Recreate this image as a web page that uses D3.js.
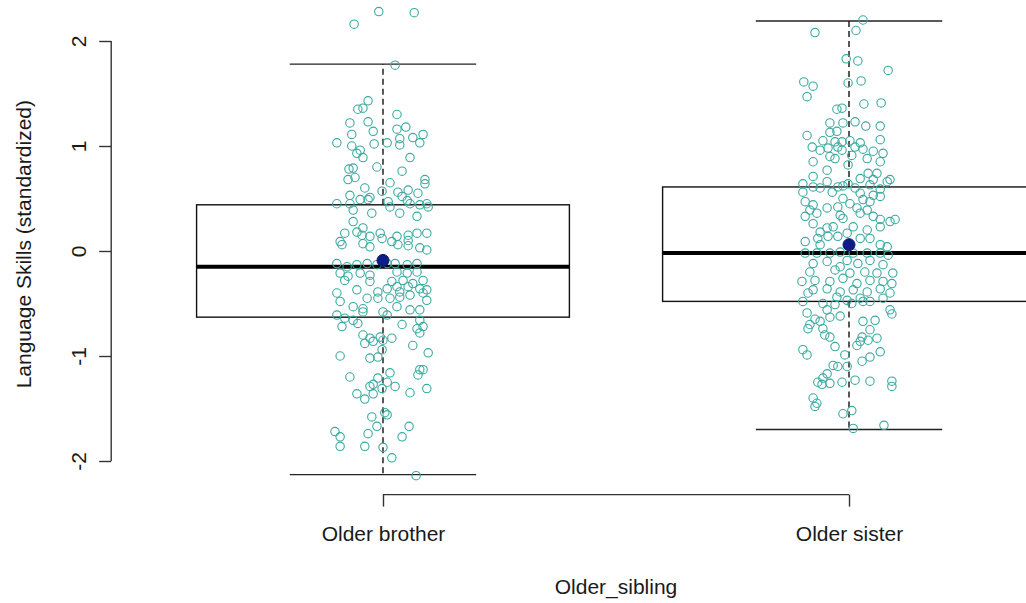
<!DOCTYPE html>
<html>
<head>
<meta charset="utf-8">
<script src="https://cdn.jsdelivr.net/npm/d3@7"></script>
<style>
  html, body { margin: 0; padding: 0; background: #fff; }
  #chart { width: 1026px; height: 603px; overflow: hidden; }
  text { font-family: "Liberation Sans", Arial, sans-serif; fill: #1a1a1a; }
</style>
</head>
<body>
<div id="chart"></div>
<script>
// categories and box statistics
const categories = ["Older brother", "Older sister"];
const lowWhisker = [-2.13, -1.70];
const q1 = [-0.63, -0.48];
const medians = [-0.15, -0.02];
const q3 = [0.44, 0.61];
const highWhisker = [1.78, 2.19];
const means = [-0.09, 0.06];
const yTicks = [-2, -1, 0, 1, 2];

// jittered observations: [horizontal jitter (category units), value]
const brotherPoints = [
  [-0.062,2.16],[-0.009,2.28],[0.067,2.27],[0.026,1.77],[-0.032,1.43],[-0.054,1.35],[-0.043,1.36],[0.030,1.30],
  [-0.071,1.22],[-0.032,1.23],[0.030,1.16],[0.049,1.18],[-0.067,1.11],[-0.021,1.14],[0.036,1.07],[0.064,1.08],
  [0.086,1.11],[-0.099,1.03],[-0.067,1.00],[-0.049,0.96],[-0.019,1.02],[0.009,1.03],[0.036,1.01],[0.079,1.03],
  [-0.056,0.93],[-0.043,0.89],[0.058,0.89],[-0.013,0.80],[-0.073,0.78],[-0.064,0.79],[0.041,0.76],[-0.075,0.68],
  [-0.060,0.70],[0.090,0.68],[0.090,0.64],[0.015,0.65],[-0.039,0.60],[-0.002,0.57],[0.032,0.56],[0.054,0.58],
  [0.075,0.55],[-0.071,0.53],[-0.028,0.51],[0.041,0.52],[-0.099,0.45],[-0.071,0.45],[-0.049,0.49],[-0.032,0.49],
  [0.011,0.47],[0.052,0.48],[0.058,0.45],[0.079,0.44],[0.094,0.45],[0.097,0.42],[-0.064,0.39],[-0.024,0.36],
  [0.015,0.42],[0.073,0.33],[0.036,0.36],[-0.064,0.28],[-0.043,0.22],[-0.056,0.18],[-0.082,0.17],[-0.045,0.15],
  [-0.028,0.14],[-0.006,0.17],[0.030,0.14],[0.054,0.15],[0.073,0.17],[0.094,0.17],[-0.002,0.12],[0.019,0.09],
  [0.054,0.10],[-0.092,0.09],
  [-0.088,0.06],[-0.043,0.07],[-0.028,0.04],[0.032,0.06],[0.054,0.05],[0.079,0.03],[0.094,0.01],[-0.099,-0.12],
  [-0.077,-0.15],[-0.056,-0.13],[-0.034,-0.12],[-0.013,-0.13],[0.009,-0.12],[0.026,-0.12],[0.052,-0.13],[0.073,-0.12],
  [-0.092,-0.21],[-0.075,-0.24],[-0.049,-0.21],[-0.028,-0.23],[0.030,-0.20],[0.052,-0.21],[0.073,-0.20],[-0.082,-0.28],
  [-0.028,-0.29],[0.019,-0.29],[0.043,-0.28],[0.064,-0.31],[0.086,-0.28],[0.009,-0.36],[0.030,-0.34],[0.054,-0.34],
  [0.079,-0.36],[0.094,-0.37],[-0.099,-0.40],[-0.056,-0.37],[-0.011,-0.39],[0.036,-0.39],[0.058,-0.42],[0.086,-0.40],
  [-0.092,-0.48],[-0.034,-0.45],[-0.011,-0.45],[0.015,-0.45],[0.036,-0.44],[0.094,-0.47],[-0.064,-0.53],[-0.043,-0.55],
  [0.000,-0.58],[0.030,-0.53],[0.058,-0.56],[0.079,-0.56],[-0.099,-0.61],[-0.082,-0.64],[-0.064,-0.66],[-0.043,-0.58],
  [0.009,-0.61],[0.079,-0.66],[-0.088,-0.72],[-0.054,-0.69],[0.041,-0.70],[0.073,-0.74],[0.086,-0.72],[-0.043,-0.80],
  [-0.028,-0.83],[-0.006,-0.82],[0.079,-0.78],[0.000,-0.85],[0.019,-0.83],[-0.039,-0.88],[-0.021,-0.86],[0.064,-0.90],
  [0.097,-0.97],[-0.092,-1.00],[-0.028,-1.02],[-0.011,-1.01],[-0.002,-0.94],
  [-0.071,-1.20],[0.079,-1.13],[0.086,-1.13],[0.075,-1.18],[-0.011,-1.21],[0.015,-1.16],[-0.021,-1.27],[-0.028,-1.29],
  [0.009,-1.25],[0.026,-1.29],[-0.002,-1.31],[-0.056,-1.36],[-0.039,-1.41],[-0.021,-1.36],[0.058,-1.35],[0.094,-1.31],
  [0.004,-1.54],[0.009,-1.56],[-0.024,-1.58],[-0.013,-1.67],[0.056,-1.67],[-0.103,-1.72],[-0.092,-1.77],[-0.032,-1.74],
  [0.041,-1.77],[-0.092,-1.86],[-0.039,-1.86],[0.000,-1.87],[0.019,-1.97],[0.071,-2.14]
];

const sisterPoints = [
  [0.030,2.20],[-0.073,2.08],[0.015,2.10],[-0.006,1.83],[0.019,1.81],[0.084,1.72],[-0.097,1.61],[-0.077,1.57],
  [-0.090,1.47],[-0.002,1.60],[0.026,1.62],[-0.026,1.35],[-0.015,1.36],[0.032,1.40],[0.069,1.41],
  [-0.041,1.22],[-0.013,1.22],[0.013,1.23],[0.036,1.19],[0.067,1.19],[-0.026,1.14],[-0.041,1.13],[-0.090,1.10],
  [-0.056,1.05],[-0.030,1.04],[-0.015,1.04],[0.002,1.05],[0.024,1.03],[0.067,1.06],[-0.079,0.99],[-0.062,0.96],
  [-0.045,0.98],[-0.024,0.99],[0.013,0.99],[0.030,0.97],[0.052,0.95],[0.073,0.93],[-0.077,0.85],[-0.041,0.90],
  [-0.030,0.88],[-0.015,0.96],[0.006,0.91],[0.039,0.88],[0.067,0.85],[-0.047,0.77],[-0.002,0.82],[-0.077,0.71],
  [0.041,0.74],[0.060,0.74],[0.024,0.69],[0.052,0.68],[0.082,0.66],[-0.002,0.64],[-0.099,0.64],[-0.077,0.61],
  [-0.047,0.66],[-0.024,0.61],[-0.013,0.62],[0.013,0.60],[0.045,0.63],[0.067,0.59],[0.088,0.68],[-0.099,0.56],
  [-0.062,0.60],[-0.036,0.56],[0.024,0.55],[0.052,0.53],[0.067,0.52],[0.030,0.49],[-0.013,0.50],[-0.094,0.47],
  [-0.077,0.44],[-0.047,0.41],[-0.024,0.42],[0.002,0.45],[0.045,0.47],[-0.084,0.39],[0.017,0.41],[0.039,0.39],
  [-0.094,0.33],[-0.069,0.36],[-0.019,0.34],[-0.013,0.31],[0.024,0.36],[0.052,0.33],[0.067,0.30],[0.088,0.28],
  [0.099,0.30],[-0.077,0.26],[-0.047,0.22],[-0.034,0.23],[-0.062,0.18],[0.009,0.23],[0.039,0.20],[0.067,0.23],
  [-0.067,0.12],[-0.045,0.14],[-0.024,0.14],[-0.004,0.17],[0.024,0.12],[0.045,0.12],[-0.094,0.09],
  [-0.062,0.06],[0.067,0.06],[0.082,0.04],[-0.094,-0.02],[-0.069,-0.02],[-0.041,-0.02],[-0.019,-0.01],[0.009,-0.02],
  [0.039,-0.02],[0.067,-0.02],[0.084,-0.04],[-0.077,-0.12],[-0.047,-0.10],[-0.004,-0.09],[0.019,-0.12],[0.045,-0.09],
  [0.073,-0.13],[-0.019,-0.15],[-0.084,-0.20],[-0.030,-0.18],[0.002,-0.21],[0.034,-0.20],[0.060,-0.21],[0.094,-0.21],
  [-0.101,-0.29],[-0.073,-0.28],[-0.041,-0.29],[-0.013,-0.26],[0.017,-0.31],[0.045,-0.28],[0.073,-0.29],[0.092,-0.31],
  [-0.077,-0.37],[-0.047,-0.36],[-0.019,-0.39],[0.009,-0.37],[0.039,-0.39],[0.067,-0.36],[0.088,-0.40],[-0.088,-0.40],
  [-0.026,-0.44],[-0.004,-0.47],[0.024,-0.45],[0.045,-0.48],[0.073,-0.45],[-0.099,-0.48],[-0.056,-0.50],[-0.030,-0.51],
  [0.006,-0.50],[0.030,-0.48],[0.088,-0.56],[0.092,-0.60],[-0.090,-0.59],[-0.047,-0.56],[-0.073,-0.65],[-0.084,-0.70],
  [-0.062,-0.67],[-0.041,-0.63],[-0.019,-0.62],[-0.088,-0.74],[-0.056,-0.74],[-0.041,-0.82],[-0.052,-0.80],[0.030,-0.67],
  [0.056,-0.66],[0.045,-0.75],[0.028,-0.82],[0.041,-0.85],[0.060,-0.83],[-0.099,-0.94],[-0.090,-0.99],[-0.030,-0.91],
  [0.017,-0.90],[0.024,-0.86],[-0.009,-0.99],[0.045,-1.01],[0.067,-0.96],
  [-0.034,-1.09],[-0.024,-1.10],[-0.004,-1.10],[0.028,-1.05],[-0.047,-1.17],[-0.056,-1.21],[-0.067,-1.25],[-0.058,-1.27],
  [-0.041,-1.26],[-0.015,-1.25],[0.013,-1.23],[0.045,-1.24],[0.092,-1.24],[0.092,-1.29],[-0.077,-1.40],[-0.069,-1.45],
  [-0.073,-1.48],[-0.013,-1.55],[0.006,-1.52],[0.075,-1.66],[0.009,-1.69]
];

class BoxStrip {

    constructor(parentElement){
        this.parentElement = parentElement
        this.groups = categories.map((c, i) => ({
            name: c, pos: i + 1,
            low: lowWhisker[i], q1: q1[i], med: medians[i], q3: q3[i], high: highWhisker[i],
            mean: means[i],
            points: i === 0 ? brotherPoints : sisterPoints
        }))
        this.initVis()
    }

    initVis(){
        let vis = this

        vis.width = 1026
        vis.height = 603

        vis.svg = d3.select("#" + vis.parentElement).append("svg")
            .attr("width", vis.width)
            .attr("height", vis.height)

        // R-style plot region: x limits 0.5..2.5 padded by 4%
        vis.xScale = d3.scaleLinear().domain([0.42, 2.58]).range([112.7, 1119.3])
        vis.yScale = d3.scaleLinear().domain([-2, 2]).range([461, 41])
        vis.yBottom = -2.32

        vis.boxWidth = 0.8
        vis.capWidth = 0.4

        vis.updateVis()
    }

    updateVis(){
        let vis = this
        let x = vis.xScale, y = vis.yScale

        let box = vis.svg.append("g").attr("class", "boxes")
        let g = box.selectAll("g.group").data(vis.groups).enter().append("g").attr("class", "group")

        // whiskers (dashed)
        g.append("line")
            .attr("x1", d => x(d.pos)).attr("x2", d => x(d.pos))
            .attr("y1", d => y(d.q3)).attr("y2", d => y(d.high))
            .attr("stroke", "#000").attr("stroke-width", 1.3).attr("stroke-dasharray", "6,4")
        g.append("line")
            .attr("x1", d => x(d.pos)).attr("x2", d => x(d.pos))
            .attr("y1", d => y(d.q1)).attr("y2", d => y(d.low))
            .attr("stroke", "#000").attr("stroke-width", 1.3).attr("stroke-dasharray", "6,4")

        // staples
        ;["low", "high"].forEach(k => {
            g.append("line")
                .attr("x1", d => x(d.pos - vis.capWidth / 2)).attr("x2", d => x(d.pos + vis.capWidth / 2))
                .attr("y1", d => y(d[k])).attr("y2", d => y(d[k]))
                .attr("stroke", "#222").attr("stroke-width", 1.4)
        })

        // box
        g.append("rect")
            .attr("x", d => x(d.pos - vis.boxWidth / 2))
            .attr("width", d => x(d.pos + vis.boxWidth / 2) - x(d.pos - vis.boxWidth / 2))
            .attr("y", d => y(d.q3))
            .attr("height", d => y(d.q1) - y(d.q3))
            .attr("fill", "#fff").attr("stroke", "#111").attr("stroke-width", 1.4)

        // median
        g.append("line")
            .attr("x1", d => x(d.pos - vis.boxWidth / 2)).attr("x2", d => x(d.pos + vis.boxWidth / 2))
            .attr("y1", d => y(d.med)).attr("y2", d => y(d.med))
            .attr("stroke", "#000").attr("stroke-width", 4)

        // jittered points
        let pts = vis.svg.append("g").attr("class", "points")
        vis.groups.forEach(grp => {
            pts.selectAll(null).data(grp.points).enter().append("circle")
                .attr("cx", d => x(grp.pos + d[0]))
                .attr("cy", d => y(d[1]))
                .attr("r", 4.2)
                .attr("fill", "none")
                .attr("stroke", "#38a99f")
                .attr("stroke-width", 1.1)
        })

        // means
        vis.svg.append("g").selectAll("circle").data(vis.groups).enter().append("circle")
            .attr("cx", d => x(d.pos))
            .attr("cy", d => y(d.mean))
            .attr("r", 6)
            .attr("fill", "#0c1d86")
            .attr("stroke", "#0a1670")
            .attr("stroke-width", 1)

        // axes, R-style: line spans first..last tick
        let axisY = y(vis.yBottom)
        let xAxis = d3.axisBottom(x).tickValues([1, 2]).tickFormat(d => categories[d - 1]).tickSize(12).tickPadding(12)
        let xa = vis.svg.append("g").attr("class", "x-axis")
            .attr("transform", `translate(0,${axisY})`)
            .call(xAxis)
        xa.select(".domain").remove()
        xa.append("line").attr("x1", x(1)).attr("x2", x(2)).attr("stroke", "#333").attr("stroke-width", 1.4)
        xa.selectAll(".tick line").attr("stroke", "#333").attr("stroke-width", 1.4)
        xa.selectAll(".tick text").attr("font-size", 21).attr("fill", "#1a1a1a")
            .attr("dy", null).attr("y", 39).attr("dominant-baseline", "central")

        let axisX = x(0.42) - 1.5
        // plain hyphen for negatives, as in the original
        let yAxis = d3.axisLeft(y).tickValues(yTicks).tickFormat(d => String(d)).tickSize(12)
        let ya = vis.svg.append("g").attr("class", "y-axis")
            .attr("transform", `translate(${axisX},0)`)
            .call(yAxis)
        ya.select(".domain").remove()
        ya.append("line").attr("y1", y(2)).attr("y2", y(-2)).attr("stroke", "#333").attr("stroke-width", 1.4)
        ya.selectAll(".tick line").attr("stroke", "#333").attr("stroke-width", 1.4)
        ya.selectAll(".tick text")
            .attr("font-size", 21).attr("fill", "#1a1a1a")
            .attr("x", null).attr("dy", null)
            .attr("text-anchor", "middle").attr("dominant-baseline", "central")
            .attr("transform", "translate(-33,0) rotate(-90)")

        // axis titles
        vis.svg.append("text")
            .attr("x", (x(0.42) + x(2.58)) / 2).attr("y", 586)
            .attr("text-anchor", "middle").attr("dominant-baseline", "central")
            .attr("font-size", 21)
            .text("Older_sibling")

        vis.svg.append("text")
            .attr("transform", `translate(23,${(y(2.45) + y(vis.yBottom)) / 2}) rotate(-90)`)
            .attr("text-anchor", "middle").attr("dominant-baseline", "central")
            .attr("font-size", 21)
            .text("Language Skills (standardized)")
    }
}

new BoxStrip("chart")
</script>
</body>
</html>
